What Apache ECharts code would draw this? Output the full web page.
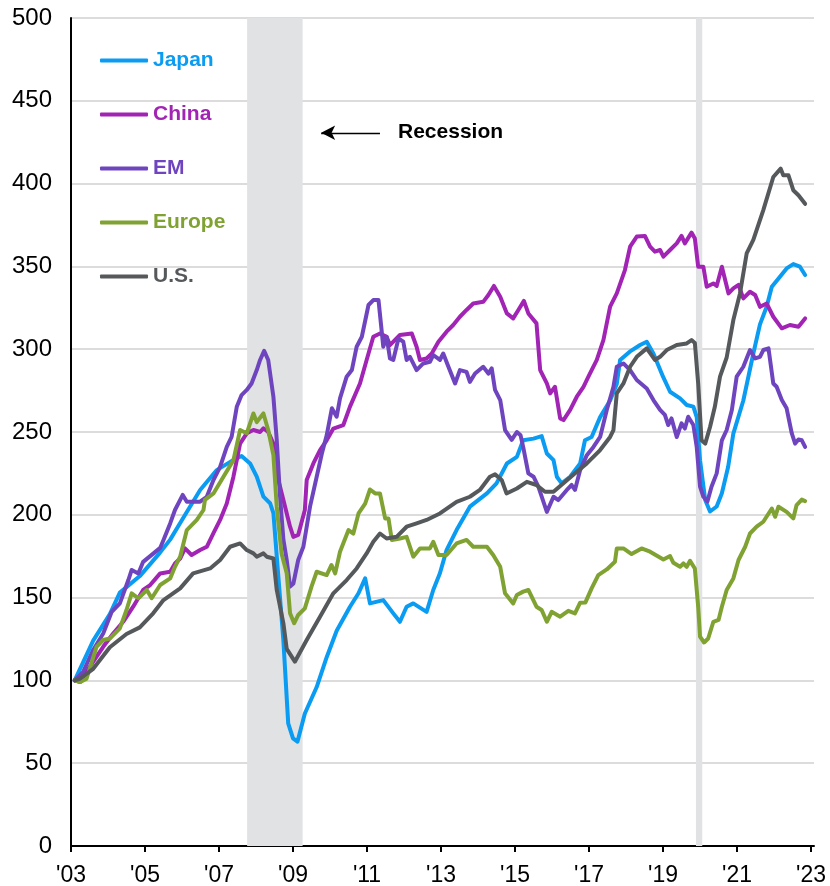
<!DOCTYPE html>
<html>
<head>
<meta charset="utf-8">
<script src="https://cdn.jsdelivr.net/npm/echarts@6/dist/echarts.min.js"></script>
<style>
html,body{margin:0;padding:0;background:#fff;}
#chart{width:830px;height:886px;}
</style>
</head>
<body>
<div id="chart"></div>
<script>
// ---- Data (year fraction, index level; start = 100) ----
const seriesNames = ['Japan', 'China', 'EM', 'Europe', 'U.S.'];
const xTickYears = [2003, 2005, 2007, 2009, 2011, 2013, 2015, 2017, 2019, 2021, 2023];
const recessions = [[2007.76, 2009.26], [2019.89, 2020.06]];
const arrowFrom = [2011.35, 430.7];
const arrowTo = [2009.76, 430.7];

const japan = [[2003.1,100],[2003.6,124],[2004.05,140],[2004.32,153],[2004.86,163],[2005.4,177],[2005.68,185],[2005.95,195],[2006.49,215],[2006.94,227],[2007.38,233],[2007.61,235.5],[2007.84,231],[2008.02,223],[2008.2,211],[2008.38,207],[2008.47,201],[2008.56,175],[2008.74,124],[2008.87,74],[2009.0,65],[2009.12,63],[2009.32,80],[2009.64,96],[2009.91,114],[2010.18,130],[2010.54,144.5],[2010.77,152.6],[2010.95,161.6],[2011.08,146.5],[2011.44,148.5],[2011.71,140.5],[2011.89,135.4],[2012.07,144.5],[2012.25,146.5],[2012.61,141.4],[2012.79,154.6],[2012.97,164.7],[2013.15,178.7],[2013.42,190.8],[2013.78,204.9],[2014.24,212.9],[2014.5,219],[2014.78,231],[2015.05,235],[2015.22,245],[2015.5,246],[2015.72,247.5],[2015.86,237],[2016.04,233],[2016.13,223],[2016.26,219],[2016.49,223],[2016.76,231],[2016.89,245],[2017.07,247],[2017.3,259],[2017.57,269],[2017.75,279],[2017.84,293.5],[2018.1,298.5],[2018.38,302.5],[2018.56,304.5],[2018.74,297.4],[2019.0,283.4],[2019.19,274.3],[2019.46,270.3],[2019.64,266.3],[2019.82,265.3],[2019.91,259],[2020.0,233],[2020.14,209],[2020.27,202],[2020.45,205],[2020.59,213],[2020.76,229],[2020.9,249],[2021.17,269],[2021.44,297.4],[2021.62,315],[2021.8,325.6],[2021.94,337.7],[2022.16,343.8],[2022.34,348.8],[2022.52,351.4],[2022.7,349.8],[2022.84,344.8]];

const china = [[2003.1,100],[2003.25,99],[2003.51,108.3],[2003.87,120.3],[2004.14,128.3],[2004.41,135.4],[2004.68,144.5],[2004.95,154.6],[2005.14,157.6],[2005.41,164.6],[2005.68,165.6],[2005.81,170.6],[2005.95,173.6],[2006.08,179.7],[2006.26,175.7],[2006.49,178.7],[2006.67,180.7],[2006.85,189],[2007.03,196.9],[2007.21,206.8],[2007.39,223],[2007.57,243],[2007.75,249.2],[2007.93,251.2],[2008.11,250],[2008.2,252.2],[2008.33,250],[2008.47,243],[2008.56,225],[2008.74,208.9],[2008.92,192.8],[2009.01,186.7],[2009.14,187.8],[2009.32,202.9],[2009.37,221],[2009.55,231],[2009.73,239],[2009.91,245],[2010.09,252.1],[2010.36,254.2],[2010.54,265.3],[2010.81,279.3],[2010.99,293.5],[2011.17,307.5],[2011.35,309.5],[2011.53,307.5],[2011.62,302.5],[2011.89,308.6],[2012.21,309.5],[2012.34,301.5],[2012.43,293.5],[2012.61,294.4],[2012.75,297.4],[2012.93,304.5],[2013.15,310.6],[2013.33,314.6],[2013.51,319.6],[2013.69,323.7],[2013.87,327.6],[2014.14,328.6],[2014.28,332.7],[2014.43,338.2],[2014.6,331.7],[2014.78,321.6],[2014.95,318.6],[2015.09,323.7],[2015.24,329.2],[2015.36,321.6],[2015.58,315.6],[2015.68,287.4],[2015.86,279.3],[2015.95,273.3],[2016.08,277.3],[2016.22,258.2],[2016.31,257.2],[2016.49,263.3],[2016.67,271.3],[2016.85,277.3],[2016.98,283.3],[2017.21,293.5],[2017.39,305.6],[2017.57,325.7],[2017.75,333.7],[2017.97,347.8],[2018.11,361.9],[2018.29,368],[2018.51,368.4],[2018.65,361.9],[2018.78,358.9],[2018.92,359.9],[2019.01,355.9],[2019.19,359.9],[2019.37,363.9],[2019.5,368.4],[2019.59,363.9],[2019.77,370.4],[2019.86,366.9],[2019.95,349.8],[2020.09,349.8],[2020.18,337.7],[2020.36,339.7],[2020.45,338.2],[2020.59,349.8],[2020.77,333.7],[2020.9,336.7],[2021.04,338.8],[2021.17,330.7],[2021.35,334.7],[2021.49,332.7],[2021.62,325.6],[2021.8,327.6],[2021.98,319.6],[2022.21,312.6],[2022.43,314.6],[2022.66,313.6],[2022.84,318.6]];

const em = [[2003.1,100],[2003.33,105.2],[2003.6,118.4],[2003.87,128.3],[2004.1,141.4],[2004.32,146.5],[2004.55,160.6],[2004.64,166.7],[2004.82,164.6],[2004.95,171.6],[2005.23,176.7],[2005.41,180],[2005.5,184.8],[2005.68,194.8],[2005.81,202.9],[2006.02,212],[2006.13,207.9],[2006.49,207.9],[2006.67,210.9],[2006.85,221],[2007.03,229],[2007.21,241],[2007.34,247],[2007.48,265.2],[2007.61,272.3],[2007.75,275.4],[2007.88,279.3],[2008.02,287.4],[2008.11,293.5],[2008.22,299],[2008.33,293.5],[2008.47,271.3],[2008.56,245.2],[2008.65,210.9],[2008.74,185],[2008.83,172.7],[2008.92,156.6],[2009.01,158.5],[2009.14,172.7],[2009.28,180.7],[2009.46,204.9],[2009.64,223],[2009.78,237],[2009.91,248],[2010.05,264.3],[2010.18,259.2],[2010.27,270.3],[2010.45,283.4],[2010.59,287.4],[2010.72,301.5],[2010.86,307.5],[2011.04,326.7],[2011.17,329.7],[2011.31,329.7],[2011.44,301.5],[2011.53,307.5],[2011.62,294.4],[2011.71,293.5],[2011.85,306.5],[2011.98,304.5],[2012.07,293.5],[2012.16,295.4],[2012.34,287.4],[2012.52,291.4],[2012.7,292.4],[2012.79,296.5],[2012.97,293.5],[2013.06,297.4],[2013.2,289.4],[2013.38,279.3],[2013.51,287.4],[2013.69,286.3],[2013.78,280.3],[2013.92,285.3],[2014.14,289.4],[2014.28,285.3],[2014.37,288.4],[2014.46,275.4],[2014.6,269.3],[2014.73,251.2],[2014.91,245.2],[2015.05,250],[2015.15,248],[2015.22,241],[2015.36,225],[2015.5,223],[2015.63,217],[2015.86,201.8],[2016.04,210.9],[2016.17,208.9],[2016.4,215],[2016.53,218],[2016.62,215],[2016.76,227],[2016.94,236],[2017.12,241],[2017.3,247],[2017.48,263.3],[2017.66,277.3],[2017.75,289.4],[2017.93,291.4],[2018.11,287.4],[2018.29,281.4],[2018.56,276.3],[2018.74,269.3],[2018.92,263.3],[2019.05,260.3],[2019.14,254.2],[2019.23,258.2],[2019.37,247],[2019.5,255.2],[2019.59,252.1],[2019.68,259.2],[2019.82,254.2],[2019.91,241],[2020.0,217],[2020.09,210.9],[2020.2,208],[2020.31,216.9],[2020.45,225],[2020.59,245],[2020.72,251.2],[2020.86,263.3],[2020.99,283.4],[2021.17,289.4],[2021.35,299.5],[2021.49,294.4],[2021.62,295.4],[2021.71,299.5],[2021.85,300.5],[2021.98,279.3],[2022.07,277.3],[2022.21,269.3],[2022.34,264.3],[2022.48,249.1],[2022.57,243],[2022.66,245.5],[2022.75,245],[2022.84,241]];

const europe = [[2003.1,100],[2003.25,99],[2003.42,101],[2003.69,120.3],[2003.87,124.4],[2004.05,125.3],[2004.32,131.4],[2004.5,142.5],[2004.64,152.6],[2004.82,149.6],[2005.05,154.6],[2005.18,149.6],[2005.41,157.6],[2005.68,161.6],[2005.81,168.6],[2005.95,174.7],[2006.13,190.8],[2006.4,196.9],[2006.58,202.9],[2006.62,209],[2006.85,212.9],[2007.12,223],[2007.39,233],[2007.57,251.2],[2007.75,249.2],[2007.93,261.2],[2008.02,256],[2008.2,261.2],[2008.33,251.2],[2008.47,236],[2008.56,204.9],[2008.69,176.7],[2008.83,164.7],[2008.92,140.5],[2009.03,134.5],[2009.14,139.5],[2009.32,143.5],[2009.5,156.6],[2009.64,165.6],[2009.91,163.6],[2010.04,169.7],[2010.14,164.6],[2010.27,177.7],[2010.5,190.8],[2010.63,188.7],[2010.77,200.8],[2010.95,206.8],[2011.08,215.3],[2011.22,212.9],[2011.35,212.9],[2011.49,197.8],[2011.58,197.8],[2011.67,184.8],[2011.89,185.7],[2012.07,186.7],[2012.25,174.7],[2012.43,179.7],[2012.7,179.7],[2012.79,183.7],[2012.93,175.7],[2013.15,175.7],[2013.42,182.7],[2013.69,184.8],[2013.87,180.7],[2014.24,180.7],[2014.41,175.7],[2014.6,168.6],[2014.73,152.6],[2014.95,146.5],[2015.05,151.6],[2015.22,153.6],[2015.36,154.6],[2015.58,144.5],[2015.72,142.5],[2015.86,135.4],[2015.99,141.4],[2016.22,138.5],[2016.44,142],[2016.62,140.5],[2016.76,146.9],[2016.9,147],[2017.07,155.6],[2017.25,163.6],[2017.48,167],[2017.7,171.6],[2017.75,179.7],[2017.93,179.7],[2018.15,176.3],[2018.42,179.7],[2018.65,177.7],[2019.01,173],[2019.19,175.1],[2019.28,171],[2019.46,168.6],[2019.55,170.6],[2019.64,168.6],[2019.73,172.2],[2019.86,167.6],[2019.95,144.5],[2020.0,126.4],[2020.11,122.9],[2020.22,125.3],[2020.36,135.4],[2020.5,136.5],[2020.59,144.5],[2020.72,154.6],[2020.9,161.6],[2021.04,172.7],[2021.22,180.7],[2021.35,188.7],[2021.53,192.8],[2021.71,195.8],[2021.94,203.8],[2022.03,198.8],[2022.12,204.9],[2022.34,201.8],[2022.52,197.8],[2022.61,205.9],[2022.75,209.2],[2022.84,208.3]];

const us = [[2003.1,100],[2003.24,101],[2003.6,107],[2004.05,120],[2004.5,128],[2004.86,132],[2005.22,140.5],[2005.5,148.5],[2005.95,155.6],[2006.3,164.6],[2006.76,167.6],[2007.03,172.7],[2007.3,180.7],[2007.57,182.7],[2007.75,178.7],[2007.93,176.7],[2008.02,174.7],[2008.2,176.7],[2008.29,174.7],[2008.47,173.6],[2008.56,154.6],[2008.74,134.5],[2008.83,119],[2009.05,111.3],[2009.37,124.4],[2009.73,138.5],[2010.09,152.6],[2010.45,160.6],[2010.72,167.6],[2010.99,176.7],[2011.17,183.7],[2011.35,188.7],[2011.53,185.7],[2011.8,186.7],[2012.07,192.8],[2012.34,194.8],[2012.61,196.9],[2012.97,200.8],[2013.42,207.8],[2013.78,210.9],[2014.05,215],[2014.32,223],[2014.46,224.4],[2014.64,221],[2014.77,212.9],[2015.05,215.9],[2015.32,219.9],[2015.58,218],[2015.81,213.9],[2016.04,213.9],[2016.3,218.9],[2016.67,226],[2016.94,231],[2017.3,239.1],[2017.57,247],[2017.66,251.2],[2017.75,273.3],[2017.93,279.3],[2018.11,289.4],[2018.29,295.4],[2018.56,300.5],[2018.78,293.5],[2018.92,295.4],[2019.1,299.5],[2019.37,302.5],[2019.64,303.5],[2019.77,305.5],[2019.86,303.8],[2019.95,279.3],[2020.04,245],[2020.14,243],[2020.27,253],[2020.4,265.2],[2020.54,283.4],[2020.72,295],[2020.9,317.6],[2021.08,333.7],[2021.26,357.8],[2021.44,366],[2021.71,384],[2021.98,404],[2022.18,409],[2022.25,405],[2022.39,405],[2022.52,396],[2022.66,393],[2022.84,387.8]];

const seriesData = [japan, china, em, europe, us];
const colors = ['#0A9BF2', '#A224B4', '#6E45BF', '#7FA232', '#55595C'];

const FONT = '"Liberation Sans", Arial, Helvetica, sans-serif';

const chart = echarts.init(document.getElementById('chart'), null, {renderer: 'canvas'});

const series = seriesNames.map((name, i) => ({
  name: name,
  type: 'line',
  data: seriesData[i],
  showSymbol: false,
  symbol: 'none',
  smooth: false,
  lineStyle: {color: colors[i], width: 4, cap: 'round', join: 'round'},
  itemStyle: {color: colors[i]},
  z: 3 + i,
  silent: true
}));

series[0].markArea = {
  silent: true,
  itemStyle: {color: '#E1E2E4'},
  data: recessions.map(r => [{xAxis: r[0]}, {xAxis: r[1]}])
};
series[0].markLine = {
  silent: true,
  symbol: ['none', 'arrow'],
  symbolSize: [11, 14],
  lineStyle: {color: '#000', width: 1.3, type: 'solid'},
  label: {show: false},
  data: [[{coord: arrowFrom}, {coord: arrowTo}]]
};

chart.setOption({
  animation: false,
  backgroundColor: '#fff',
  textStyle: {fontFamily: FONT},
  grid: {left: 71, right: 16, top: 18, bottom: 40, containLabel: false, outerBoundsMode: 'none'},
  legend: {
    show: true,
    orient: 'vertical',
    left: 95,
    top: 45,
    itemWidth: 48,
    itemHeight: 4,
    itemGap: 33,
    icon: 'roundRect',
    selectedMode: false,
    textStyle: {fontFamily: FONT, fontWeight: 'bold', fontSize: 21, lineHeight: 21},
    data: seriesNames.map((n, i) => ({name: n, textStyle: {color: colors[i]}, itemStyle: {color: colors[i]}}))
  },
  xAxis: {
    type: 'value',
    min: 2003,
    max: 2023.08,
    splitLine: {show: false},
    axisLine: {show: true, onZero: false, lineStyle: {color: '#000', width: 2}},
    axisTick: {show: true, customValues: xTickYears, length: 6, lineStyle: {color: '#000', width: 2}},
    axisLabel: {
      customValues: xTickYears,
      formatter: v => "'" + String(Math.round(v)).slice(2),
      color: '#000', fontSize: 23, fontFamily: FONT, margin: 18
    }
  },
  yAxis: {
    type: 'value',
    min: 0,
    max: 500,
    interval: 50,
    axisLine: {show: true, lineStyle: {color: '#000', width: 2}},
    axisTick: {show: false},
    splitLine: {show: true, lineStyle: {color: '#D0D0D0', width: 1.5}},
    axisLabel: {color: '#000', fontSize: 24, fontFamily: FONT, margin: 19}
  },
  graphic: [{
    type: 'text',
    left: 398,
    top: 122,
    silent: true,
    style: {text: 'Recession', fill: '#000', font: 'bold 21px ' + FONT}
  }],
  series: series
});
</script>
</body>
</html>
